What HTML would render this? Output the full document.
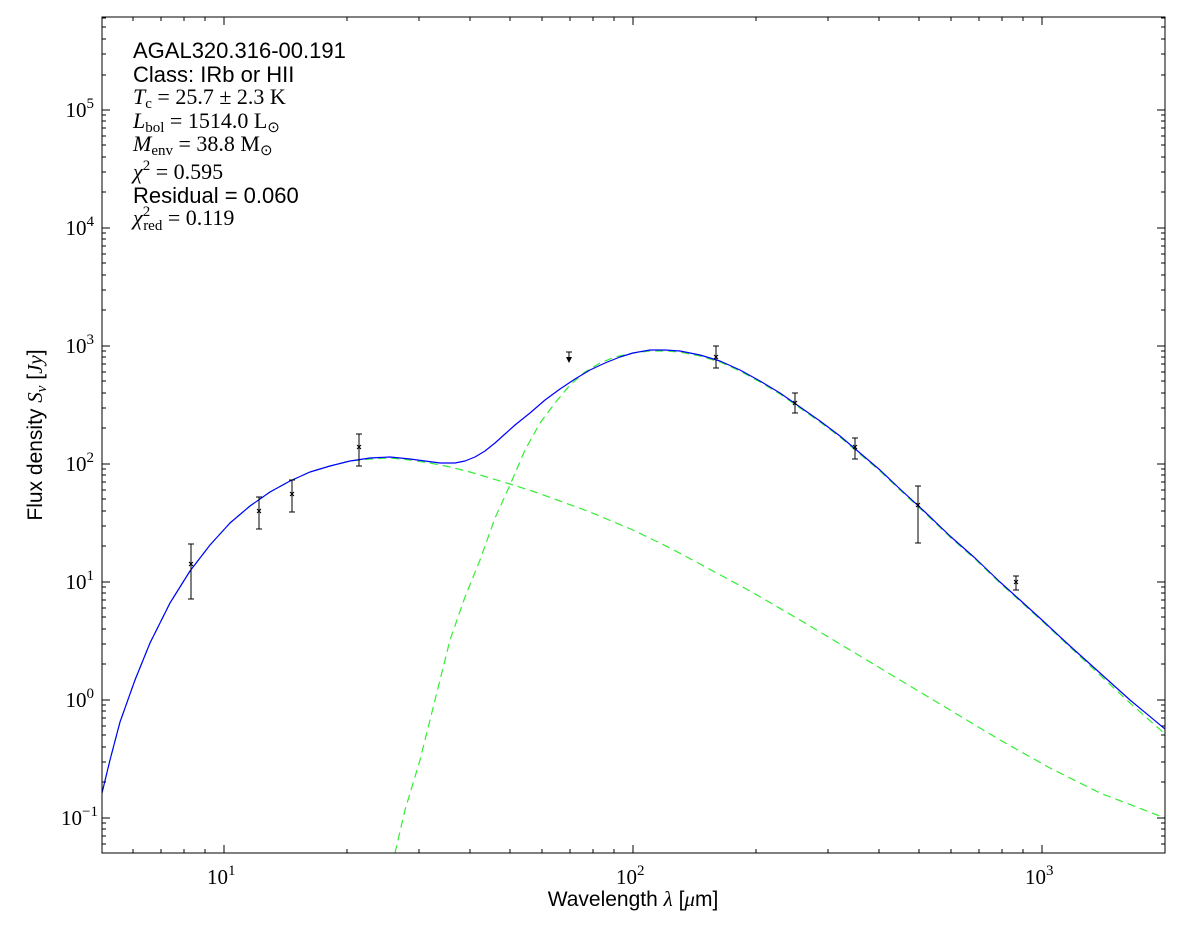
<!DOCTYPE html>
<html><head><meta charset="utf-8"><style>
body{margin:0;background:#fff;}
svg{display:block;font-family:"Liberation Sans",sans-serif;}
.m{font-family:"Liberation Serif",serif;font-style:italic;}
.r{font-family:"Liberation Serif",serif;}
</style></head><body>
<svg width="1200" height="933" viewBox="0 0 1200 933">
<rect x="0" y="0" width="1200" height="933" fill="#fff"/>
<defs><clipPath id="c"><rect x="102" y="17" width="1063" height="836"/></clipPath></defs>
<g clip-path="url(#c)" fill="none" stroke-linejoin="round">
<polyline stroke="#33ee33" stroke-width="1.2" stroke-dasharray="8,5" points="395,853 405,810 420,760 435,700 450,640 465,597 480,560 495,518 510,485 525,450 540,423 555,403 570,385 585,372 600,363 615,357 633,353 650,351 665,351 680,352 700,356 720,362 740,371 760,382 780,394 800,408 820,422 840,437 860,454 880,471 900,490 925,513 950,537 975,559 1000,583 1020,601 1042,621 1070,647 1100,675 1130,703 1165,734"/>
<polyline stroke="#33ee33" stroke-width="1.2" stroke-dasharray="8,5" points="102,793 110,760 120,722 135,680 150,643 170,603 190,571 210,545 230,523 250,506 270,492 290,481 310,472 330,466 350,461 370,459 390,458 410,460 430,463 450,467 470,472 490,478 510,484 535,492 560,501 590,512 633,530 670,548 700,564 750,591 800,620 850,650 900,680 950,710 1000,740 1050,768 1100,793 1165,818"/>
<polyline stroke="#0000ff" stroke-width="1.2" points="102,793 110,760 120,722 135,680 150,643 170,603 190,571 210,545 230,523 250,506 270,492 290,481 310,472 330,466 350,461 370,458 390,457 410,459 425,461 440,463 455,463 465,461 475,457 485,451 495,443 505,434 515,425 530,413 545,400 560,389 575,379 590,370 605,363 620,357 633,353 650,350 665,350 680,351 700,355 720,361 740,370 760,381 780,393 800,407 820,421 840,436 860,453 880,470 900,489 925,512 950,536 975,558 1000,582 1020,600 1042,620 1070,646 1100,673 1130,700 1165,729"/>
</g>
<g stroke="#000" stroke-width="1" fill="none">
<path d="M191,544V599M188,544h6M188,599h6 M259,497V529M256,497h6M256,529h6 M292,480V512M289,480h6M289,512h6 M359,434V466M356,434h6M356,466h6 M716,346V368M713,346h6M713,368h6 M795,393V413M792,393h6M792,413h6 M855,438V459M852,438h6M852,459h6 M918,486V543M915,486h6M915,543h6 M1016,576V590M1013,576h6M1013,590h6 M569,352V360M566,352h6"/>
<path d="M189,562l4,4M193,562l-4,4 M257,509l4,4M261,509l-4,4 M290,492l4,4M294,492l-4,4 M357,445l4,4M361,445l-4,4 M714,355l4,4M718,355l-4,4 M793,401l4,4M797,401l-4,4 M853,445l4,4M857,445l-4,4 M916,503l4,4M920,503l-4,4 M1014,580l4,4M1018,580l-4,4"/>
</g>
<path d="M566,357h6l-3,6z" fill="#000"/>
<rect x="102" y="17" width="1063" height="836" fill="none" stroke="#000" stroke-width="1"/>
<g stroke="#000" stroke-width="1" fill="none">
<path d="M224,853v-8M224,17v8M633,853v-8M633,17v8M1042,853v-8M1042,17v8"/>
<path d="M133,853v-4M133,17v4M161,853v-4M161,17v4M184,853v-4M184,17v4M205,853v-4M205,17v4M347,853v-4M347,17v4M419,853v-4M419,17v4M470,853v-4M470,17v4M510,853v-4M510,17v4M542,853v-4M542,17v4M570,853v-4M570,17v4M593,853v-4M593,17v4M614,853v-4M614,17v4M756,853v-4M756,17v4M828,853v-4M828,17v4M879,853v-4M879,17v4M919,853v-4M919,17v4M951,853v-4M951,17v4M979,853v-4M979,17v4M1002,853v-4M1002,17v4M1023,853v-4M1023,17v4"/>
<path d="M102,818h8M1165,818h-8M102,700h8M1165,700h-8M102,582h8M1165,582h-8M102,464h8M1165,464h-8M102,346h8M1165,346h-8M102,228h8M1165,228h-8M102,110h8M1165,110h-8"/>
<path d="M102,844h4M1165,844h-4M102,836h4M1165,836h-4M102,829h4M1165,829h-4M102,823h4M1165,823h-4
M102,782h4M1165,782h-4M102,762h4M1165,762h-4M102,747h4M1165,747h-4M102,735h4M1165,735h-4M102,726h4M1165,726h-4M102,718h4M1165,718h-4M102,711h4M1165,711h-4M102,705h4M1165,705h-4
M102,664h4M1165,664h-4M102,644h4M1165,644h-4M102,629h4M1165,629h-4M102,617h4M1165,617h-4M102,608h4M1165,608h-4M102,600h4M1165,600h-4M102,593h4M1165,593h-4M102,587h4M1165,587h-4
M102,546h4M1165,546h-4M102,526h4M1165,526h-4M102,511h4M1165,511h-4M102,499h4M1165,499h-4M102,490h4M1165,490h-4M102,482h4M1165,482h-4M102,475h4M1165,475h-4M102,469h4M1165,469h-4
M102,428h4M1165,428h-4M102,408h4M1165,408h-4M102,393h4M1165,393h-4M102,381h4M1165,381h-4M102,372h4M1165,372h-4M102,364h4M1165,364h-4M102,357h4M1165,357h-4M102,351h4M1165,351h-4
M102,310h4M1165,310h-4M102,290h4M1165,290h-4M102,275h4M1165,275h-4M102,263h4M1165,263h-4M102,254h4M1165,254h-4M102,246h4M1165,246h-4M102,239h4M1165,239h-4M102,233h4M1165,233h-4
M102,192h4M1165,192h-4M102,172h4M1165,172h-4M102,157h4M1165,157h-4M102,145h4M1165,145h-4M102,136h4M1165,136h-4M102,128h4M1165,128h-4M102,121h4M1165,121h-4M102,115h4M1165,115h-4
M102,75h4M1165,75h-4M102,54h4M1165,54h-4M102,39h4M1165,39h-4M102,27h4M1165,27h-4M102,18h4M1165,18h-4"/>
</g>
<g class="r" font-size="21" fill="#000">
<text x="207" y="884">10<tspan font-size="15" dy="-9">1</tspan></text>
<text x="616" y="884">10<tspan font-size="15" dy="-9">2</tspan></text>
<text x="1025" y="884">10<tspan font-size="15" dy="-9">3</tspan></text>
<g text-anchor="end">
<text x="98" y="825">10<tspan font-size="15" dy="-9">−1</tspan></text>
<text x="94" y="707">10<tspan font-size="15" dy="-9">0</tspan></text>
<text x="94" y="589">10<tspan font-size="15" dy="-9">1</tspan></text>
<text x="94" y="471">10<tspan font-size="15" dy="-9">2</tspan></text>
<text x="94" y="353">10<tspan font-size="15" dy="-9">3</tspan></text>
<text x="94" y="235">10<tspan font-size="15" dy="-9">4</tspan></text>
<text x="94" y="117">10<tspan font-size="15" dy="-9">5</tspan></text>
</g>
</g>
<text x="633" y="906" text-anchor="middle" font-size="21">Wavelength <tspan class="m">λ</tspan> [<tspan class="m">μ</tspan>m]</text>
<text transform="translate(42,435) rotate(-90)" text-anchor="middle" font-size="21">Flux density <tspan class="m">S</tspan><tspan class="m" font-size="15" dy="4">ν</tspan><tspan dy="-4"> [</tspan><tspan class="m">Jy</tspan>]</text>
<g font-size="22" fill="#000">
<text x="133" y="58">AGAL320.316-00.191</text>
<text x="133" y="82">Class: IRb or HII</text>
<text x="133" y="104" class="r"><tspan class="m">T</tspan><tspan font-size="15" dy="4">c</tspan><tspan dy="-4"> = 25.7 ± 2.3 K</tspan></text>
<text x="133" y="128" class="r"><tspan class="m">L</tspan><tspan font-size="15" dy="4">bol</tspan><tspan dy="-4"> = 1514.0 L</tspan><tspan font-size="15" dy="4">⊙</tspan></text>
<text x="133" y="151" class="r"><tspan class="m">M</tspan><tspan font-size="15" dy="4">env</tspan><tspan dy="-4"> = 38.8 M</tspan><tspan font-size="15" dy="4">⊙</tspan></text>
<text x="133" y="179" class="r"><tspan class="m">χ</tspan><tspan font-size="15" dy="-9">2</tspan><tspan dy="9"> = 0.595</tspan></text>
<text x="133" y="203">Residual = 0.060</text>
<text x="133" y="225" class="r"><tspan class="m">χ</tspan><tspan font-size="15" dy="-9">2</tspan><tspan font-size="15" dx="-7" dy="14">red</tspan><tspan dy="-5"> = 0.119</tspan></text>
</g>
</svg>
</body></html>
